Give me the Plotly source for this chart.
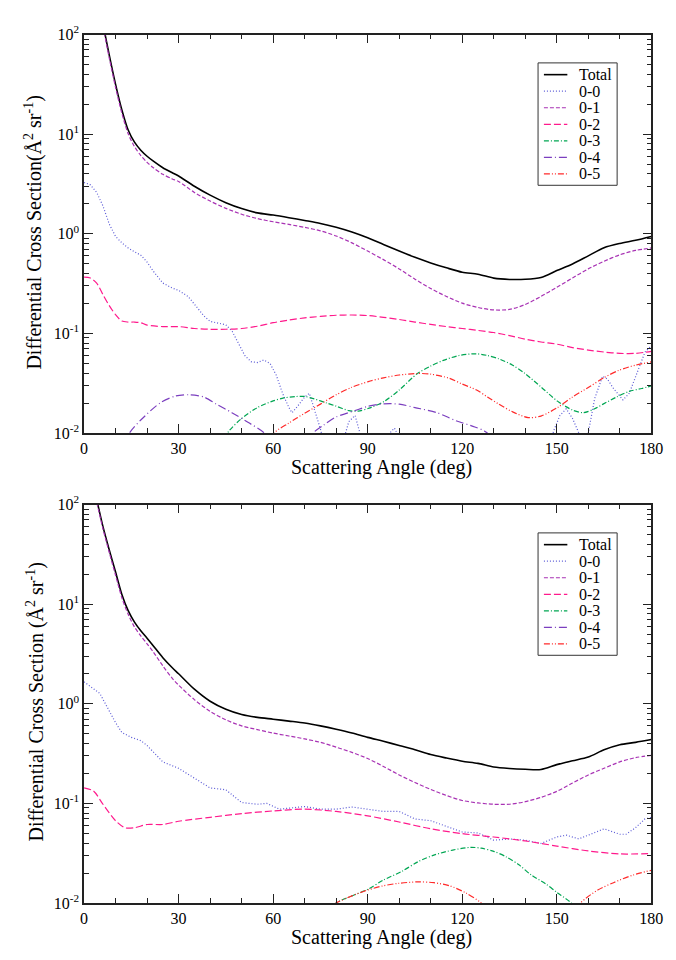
import plotly.graph_objects as go

# ---------------- upper panel data ----------------
top_total_deg = [0, 2, 4, 6, 8, 10, 12, 14, 16, 18, 20, 22, 25, 28, 30, 35, 40, 45, 50, 55, 60, 65, 70,
                 75, 80, 85, 90, 95, 100, 105, 110, 115, 120, 125, 130, 135, 140, 145, 150, 155, 160,
                 165, 170, 175, 180]
top_total_val = [1480, 630, 282, 129, 62, 31.6, 17.5, 11.0, 8.3, 6.9, 6.0, 5.35, 4.6, 4.1, 3.8, 3.0, 2.44,
                 2.05, 1.79, 1.62, 1.54, 1.45, 1.36, 1.27, 1.16, 1.04, 0.91, 0.78, 0.67, 0.58, 0.51, 0.455,
                 0.411, 0.393, 0.359, 0.348, 0.349, 0.364, 0.427, 0.497, 0.60, 0.724, 0.80, 0.86, 0.94]

top_00_deg = [0, 2, 4, 6, 8, 10, 12, 14, 16, 18, 20, 22, 25, 28, 30, 33, 36, 38, 40, 43, 45, 47, 49, 51,
              53, 55, 57, 59, 61, 63, 65, 66, 68, 70, 71.5, 73, 75, 77, 79, 81, 84, 86, 88, 91, 94, 97,
              98.5, 100, 104, 110, 120, 130, 140, 145, 149, 151, 153, 155, 157, 158.5, 160, 162, 164.5,
              166, 168, 171, 173, 176, 178, 180]
top_00_val = [3.27, 3.1, 2.6, 1.9, 1.25, 0.94, 0.81, 0.72, 0.66, 0.61, 0.52, 0.42, 0.32, 0.285, 0.27,
              0.235, 0.18, 0.15, 0.132, 0.125, 0.122, 0.105, 0.08, 0.06, 0.052, 0.051, 0.054, 0.05, 0.038,
              0.025, 0.018, 0.016, 0.019, 0.023, 0.025, 0.018, 0.011, 0.006, 0.004, 0.006, 0.013, 0.015,
              0.009, 0.004, 0.005, 0.01, 0.0112, 0.009, 0.004, 0.002, 0.003, 0.002, 0.002, 0.003, 0.0105,
              0.015, 0.0175, 0.014, 0.01, 0.007, 0.01, 0.022, 0.037, 0.035, 0.028, 0.0215, 0.025, 0.045,
              0.065, 0.075]

top_01_deg = [0, 2, 4, 6, 8, 10, 12, 14, 16, 18, 20, 22, 25, 28, 30, 35, 40, 45, 50, 55, 60, 65, 70, 75,
              80, 85, 90, 95, 100, 105, 110, 115, 120, 125, 130, 135, 140, 145, 150, 155, 160, 165, 170,
              175, 180]
top_01_val = [1400, 600, 265, 122, 58, 29.5, 16.2, 10.1, 7.5, 6.1, 5.2, 4.6, 3.95, 3.55, 3.35, 2.6, 2.13,
              1.8, 1.57, 1.42, 1.32, 1.24, 1.16, 1.07, 0.95, 0.81, 0.67, 0.55, 0.444, 0.35, 0.282, 0.235,
              0.201, 0.182, 0.172, 0.174, 0.195, 0.235, 0.29, 0.36, 0.444, 0.53, 0.615, 0.68, 0.72]

top_02_deg = [0, 2, 4, 6, 8, 10, 12, 14, 16, 18, 20, 25, 30, 35, 40, 45, 50, 55, 60, 65, 70, 75, 80, 85,
              90, 95, 100, 105, 110, 115, 120, 125, 130, 135, 140, 145, 150, 155, 160, 165, 170, 175, 180]
top_02_val = [0.367, 0.36, 0.32, 0.245, 0.19, 0.154, 0.133, 0.130, 0.130, 0.128, 0.121, 0.117, 0.117,
              0.112, 0.110, 0.110, 0.112, 0.118, 0.128, 0.136, 0.143, 0.148, 0.152, 0.153, 0.151, 0.145,
              0.138, 0.13, 0.123, 0.117, 0.112, 0.107, 0.102, 0.095, 0.0875, 0.082, 0.078, 0.072, 0.068,
              0.065, 0.063, 0.063, 0.066]

top_03_deg = [38, 42, 46, 50, 55, 60, 63.4, 67, 70, 73, 77, 80, 84, 87, 91, 95.4, 100, 105.8, 110, 114,
              119, 124.4, 128, 131.6, 136, 139.9, 145, 150.2, 155, 158.5, 162, 164.7, 169, 173, 177, 180]
top_03_val = [0.004, 0.007, 0.0105, 0.014, 0.018, 0.021, 0.0225, 0.0232, 0.0233, 0.022, 0.02, 0.0186,
              0.0168, 0.0166, 0.018, 0.0209, 0.027, 0.0396, 0.047, 0.0536, 0.06, 0.0624, 0.06, 0.0556,
              0.048, 0.0396, 0.029, 0.0209, 0.017, 0.016, 0.0175, 0.0195, 0.023, 0.0262, 0.028, 0.0297]

top_04_deg = [8, 14.4, 18, 24.2, 29, 33.5, 38, 42, 46.9, 52, 57.2, 62, 65, 69, 72.7, 76, 80, 86, 90, 95,
              100, 105, 112, 118, 124, 127, 130, 135, 140]
top_04_val = [0.004, 0.01, 0.0135, 0.0201, 0.0235, 0.0242, 0.023, 0.0195, 0.016, 0.0128, 0.01, 0.006,
              0.004, 0.006, 0.01, 0.012, 0.0145, 0.0168, 0.0185, 0.0196, 0.0195, 0.018, 0.016, 0.0133,
              0.0115, 0.0105, 0.0088, 0.006, 0.004]

top_05_deg = [52, 60.3, 65, 70, 75, 80, 85, 90.2, 95, 100, 105.8, 110, 116, 120, 124.4, 128, 131.6, 136,
              140.9, 145, 150.2, 155, 160.5, 165, 169.8, 175, 180]
top_05_val = [0.004, 0.01, 0.0126, 0.0158, 0.0195, 0.0242, 0.0288, 0.0328, 0.0358, 0.0382, 0.0396, 0.039,
              0.0354, 0.031, 0.0272, 0.023, 0.0195, 0.0163, 0.0143, 0.0148, 0.018, 0.023, 0.0293, 0.036,
              0.0427, 0.048, 0.0517]

# ---------------- lower panel data ----------------
bot_total_deg = [0, 2, 4, 6, 8, 10, 12, 14, 16, 18, 20, 22, 25, 28, 30, 35, 40, 45, 50, 55, 60, 65,
                 70, 75, 80, 85, 90, 95, 100, 105, 110, 115, 120, 125, 130, 135, 140, 145, 150, 155, 160,
                 165, 170, 175, 180]
bot_total_val = [370, 200, 112, 60, 35, 21, 12.5, 8.6, 6.6, 5.4, 4.55, 3.8, 2.9, 2.3, 2.0, 1.4, 1.06,
                 0.88, 0.78, 0.73, 0.70, 0.67, 0.64, 0.60, 0.556, 0.51, 0.46, 0.42, 0.381, 0.345, 0.309,
                 0.285, 0.265, 0.252, 0.232, 0.224, 0.22, 0.219, 0.245, 0.268, 0.292, 0.345, 0.388, 0.41,
                 0.437]

bot_00_deg = [0, 5, 10, 12, 15, 18, 20, 25, 30, 35, 40, 45, 50, 55, 58, 62, 65, 70, 75, 80, 85, 90, 95,
              100, 105, 110, 115, 120, 125, 130, 135, 140, 145, 150, 153, 157, 160, 165, 170, 172, 175,
              178, 180]
bot_00_val = [1.66, 1.27, 0.646, 0.515, 0.46, 0.427, 0.381, 0.261, 0.225, 0.179, 0.143, 0.137, 0.102,
              0.098, 0.1, 0.0875, 0.089, 0.093, 0.0875, 0.0875, 0.092, 0.0875, 0.083, 0.083, 0.0698,
              0.067, 0.0587, 0.0516, 0.0505, 0.0427, 0.044, 0.0427, 0.0396, 0.046, 0.048, 0.044, 0.048,
              0.0556, 0.049, 0.049, 0.057, 0.07, 0.072]

bot_01_deg = [0, 2, 4, 6, 8, 10, 12, 14, 16, 18, 20, 22, 25, 28, 30, 35, 40, 45, 50, 55, 60, 65, 70, 75,
              80, 85, 90, 95, 100, 105, 110, 115, 120, 125, 130, 135, 140, 145, 150, 155, 160, 165, 170,
              175, 180]
bot_01_val = [350, 190, 106, 57, 33, 19.5, 11.6, 7.9, 5.9, 4.8, 4.0, 3.3, 2.4, 1.8, 1.54, 1.1, 0.84, 0.69,
              0.60, 0.55, 0.508, 0.475, 0.444, 0.41, 0.367, 0.325, 0.282, 0.235, 0.193, 0.162, 0.138,
              0.12, 0.107, 0.101, 0.098, 0.098, 0.104, 0.115, 0.132, 0.16, 0.193, 0.225, 0.261, 0.288,
              0.304]

bot_02_deg = [0, 3, 6, 10, 13, 16, 20, 25, 30, 40, 50, 60, 70, 80, 90, 100, 110, 120, 130, 140, 150, 160,
              170, 180]
bot_02_val = [0.143, 0.133, 0.098, 0.067, 0.0569, 0.057, 0.0614, 0.0614, 0.0662, 0.0725, 0.079, 0.084,
              0.0875, 0.083, 0.075, 0.065, 0.0556, 0.0497, 0.046, 0.042, 0.0373, 0.0333, 0.0311, 0.0314]

bot_03_deg = [70, 80, 85, 90.2, 95, 101, 106, 111.2, 117, 122.6, 126, 130, 134, 138, 142, 146.6, 150,
              154.6, 160, 165, 170, 176, 180]
bot_03_val = [0.005, 0.01, 0.0118, 0.0138, 0.017, 0.0209, 0.026, 0.0304, 0.034, 0.0362, 0.0355, 0.033,
              0.029, 0.0242, 0.019, 0.0155, 0.0128, 0.01, 0.006, 0.005, 0.0065, 0.009, 0.01]

bot_04_deg = [0, 30, 60, 95, 130, 180]
bot_04_val = [0.001, 0.004, 0.001, 0.003, 0.001, 0.002]

bot_05_deg = [70, 78, 80, 85, 90, 95, 100, 106, 111, 116, 121.2, 126, 132, 140, 150, 157.5, 163, 168, 174,
              180]
bot_05_val = [0.005, 0.009, 0.01, 0.0118, 0.0135, 0.0149, 0.0158, 0.0163, 0.016, 0.0149, 0.0126, 0.01,
              0.006, 0.004, 0.005, 0.01, 0.0135, 0.016, 0.019, 0.0213]

series_names = ["Total", "0-0", "0-1", "0-2", "0-3", "0-4", "0-5"]
x_ticks = [0, 30, 60, 90, 120, 150, 180]
y_ticks = [0.01, 0.1, 1, 10, 100]
y_tick_text = ["10<sup>-2</sup>", "10<sup>-1</sup>", "10<sup>0</sup>", "10<sup>1</sup>", "10<sup>2</sup>"]

top_series = [(top_total_deg, top_total_val), (top_00_deg, top_00_val), (top_01_deg, top_01_val),
              (top_02_deg, top_02_val), (top_03_deg, top_03_val), (top_04_deg, top_04_val),
              (top_05_deg, top_05_val)]
bot_series = [(bot_total_deg, bot_total_val), (bot_00_deg, bot_00_val), (bot_01_deg, bot_01_val),
              (bot_02_deg, bot_02_val), (bot_03_deg, bot_03_val), (bot_04_deg, bot_04_val),
              (bot_05_deg, bot_05_val)]

# line styles: colour, dash pattern, width, shape
styles = [
    ("#000000", "solid", 1.6, "spline"),
    ("#5a5ad6", "1px,2px", 1.2, "linear"),
    ("#a832b4", "4px,2px", 1.2, "spline"),
    ("#ff1a8c", "7px,3px", 1.2, "spline"),
    ("#00a652", "5px,2px,1px,2px", 1.2, "spline"),
    ("#7b3fbf", "8px,3px,1px,3px", 1.2, "spline"),
    ("#ff2a2a", "6px,2px,1px,2px,1px,2px", 1.2, "spline"),
]

FONT = "Liberation Serif, Times New Roman, serif"
W, H = 676, 960
X0, X1 = 82, 663
panels = [(24, 431), (504, 911)]

fig = go.Figure()
for p, series in enumerate([top_series, bot_series]):
    suffix = "" if p == 0 else "2"
    for name, (xs, ys), (col, dash, wid, shape) in zip(series_names, series, styles):
        fig.add_trace(go.Scatter(
            x=xs, y=ys, name=name, mode="lines", showlegend=False,
            line=dict(color=col, dash=dash, width=wid, shape=shape, smoothing=0.8),
            xaxis="x" + suffix, yaxis="y" + suffix,
        ))

axis_col = "#222"
minor_x = [v for v in range(0, 181, 10) if v % 30]
minor_y = [m * 10 ** e for e in range(-2, 2) for m in range(2, 10)]

layout = dict(
    width=W, height=H, autosize=False,
    margin=dict(l=0, r=0, t=0, b=0),
    paper_bgcolor="white", plot_bgcolor="white",
    font=dict(family=FONT, color="black"),
)

annotations = []
shapes = []
for p, (ytop, ybot) in enumerate(panels):
    suffix = "" if p == 0 else "2"
    dom_y = [1 - ybot / H, 1 - ytop / H]
    layout["xaxis" + suffix] = dict(
        domain=[X0 / W, X1 / W], anchor="y" + suffix, range=[0, 180],
        tickmode="array", tickvals=x_ticks, ticks="inside", ticklen=9, tickwidth=1.2,
        tickcolor=axis_col, showline=True, linecolor=axis_col, linewidth=1.5, mirror="ticks",
        showgrid=False, zeroline=False,
        minor=dict(tickmode="array", tickvals=minor_x, ticks="inside", ticklen=5, tickwidth=1,
                   tickcolor=axis_col, showgrid=False),
        tickfont=dict(family=FONT, size=16, color="black"),
    )
    layout["yaxis" + suffix] = dict(
        domain=dom_y, anchor="x" + suffix, type="log", range=[-2, 2],
        tickmode="array", tickvals=y_ticks, ticktext=y_tick_text,
        ticks="inside", ticklen=9, tickwidth=1.2, tickcolor=axis_col,
        showline=True, linecolor=axis_col, linewidth=1.5, mirror="ticks",
        showgrid=False, zeroline=False,
        minor=dict(tickmode="array", tickvals=minor_y, ticks="inside", ticklen=5, tickwidth=1,
                   tickcolor=axis_col, showgrid=False),
        tickfont=dict(family=FONT, size=16, color="black"),
    )

    # legend box with one sample line and label per series
    shapes.append(dict(
        type="rect", xref="paper", yref="paper", layer="above",
        x0=547 / W, x1=628 / W, y0=1 - (ytop + 154) / H, y1=1 - (ytop + 29) / H,
        line=dict(color="#333", width=1), fillcolor="white",
    ))
    for i, (name, (col, dash, wid, _)) in enumerate(zip(series_names, styles)):
        yc = 1 - (ytop + 41 + i * 16.9) / H
        shapes.append(dict(
            type="line", xref="paper", yref="paper", layer="above",
            x0=553 / W, x1=577 / W, y0=yc, y1=yc,
            line=dict(color=col, dash=dash, width=wid),
        ))
        annotations.append(dict(
            text=name, xref="paper", yref="paper", x=587 / W, y=yc,
            xanchor="left", yanchor="middle", showarrow=False,
            font=dict(family=FONT, size=16, color="black"),
        ))

    annotations.append(dict(
        text="Scattering Angle (deg)", xref="paper", yref="paper",
        x=387 / W, y=1 - (ybot + 35) / H, xanchor="center", yanchor="middle",
        showarrow=False, font=dict(family=FONT, size=20, color="black"),
    ))
    ytitle = ("Differential Cross Section(Å<sup>2</sup> sr<sup>-1</sup>)" if p == 0
              else "Differential Cross Section (Å<sup>2</sup> sr<sup>-1</sup>)")
    annotations.append(dict(
        text=ytitle, xref="paper", yref="paper", textangle=-90,
        x=(30 if p == 0 else 32) / W, y=1 - (ytop + 202) / H, xanchor="center", yanchor="middle",
        showarrow=False, font=dict(family=FONT, size=20, color="black"),
    ))

layout["annotations"] = annotations
layout["shapes"] = shapes
fig.update_layout(**layout)
fig.write_html("out.html")
